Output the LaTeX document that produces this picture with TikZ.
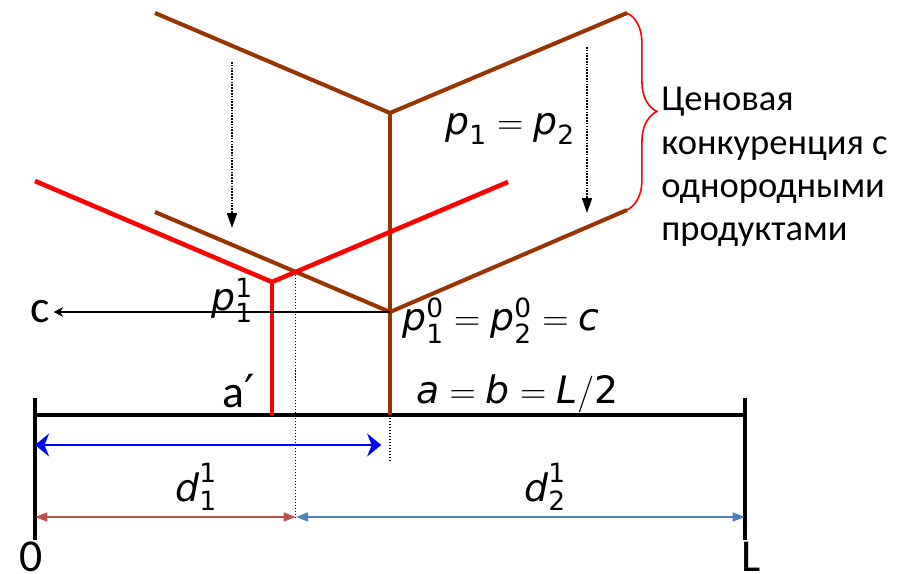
\documentclass[tikz,border=0pt]{standalone}
\usepackage{fontspec}
\usepackage{amsmath}
\setmainfont{Carlito}
\newfontfamily\vfont{DejaVu Sans}
\usetikzlibrary{arrows.meta,positioning,decorations.pathreplacing}
\definecolor{rust}{RGB}{153,51,0}
\definecolor{brick}{RGB}{192,80,77}
\definecolor{steel}{RGB}{79,129,189}
\newcommand{\mi}[1]{\text{\vfont\itshape #1}}
\newcommand{\nm}[1]{\text{\vfont #1}}
\newcommand{\pp}[2]{\mi{p}^{\nm{#2}}_{\nm{#1}}}
\tikzset{
  >={Stealth[length=5.5pt,width=5.5pt]},
  firm/.style={draw=#1,line width=2.3pt},
  firm/.default=rust,
  guide/.style={draw=black,line width=0.6pt,dash pattern=on 0.6pt off 1.1pt},
  drop/.style={draw=black,line width=0.9pt,dash pattern=on 0.9pt off 0.7pt,
    -{Triangle[length=8.5pt,width=5.7pt]}},
  span/.style={draw=#1,line width=1.3pt,
    {Triangle[length=7pt,width=5pt]}-{Triangle[length=7pt,width=5pt]}},
  span/.default=brick,
  reach/.style={draw=blue,line width=1.7pt,
    {Stealth[length=8pt,width=13pt]}-{Stealth[length=8pt,width=13pt]}},
  eq/.style={font=\fontsize{21.5}{25}\selectfont,inner sep=0pt,anchor=base west},
  tag/.style={font=\fontsize{26}{30}\selectfont,inner sep=0pt},
}

\begin{document}
\begin{tikzpicture}[x=0.02cm,y=-0.02cm]
  \useasboundingbox (0,0) rectangle (910,574);
  % price lines
  \coordinate (topL) at (155,13);
  \coordinate (topV) at (390,113);
  \coordinate (topR) at (627,13);
  \coordinate (lowL) at (155,212);
  \coordinate (eqV) at (390,312);
  \coordinate (lowR) at (627,210);
  \coordinate (redL) at (35,181);
  \coordinate (redV) at (272,282);
  \coordinate (redR) at (508,182);
  % market segment
  \coordinate (zero) at (35,415);
  \coordinate (ell) at (745,415);
  \coordinate (zeroT) at (35,398);
  \coordinate (zeroB) at (35,540);
  \coordinate (ellT) at (745,398);
  \coordinate (ellB) at (745,540);
  \coordinate (mid) at (eqV |- zero);
  \coordinate (aprime) at (redV |- zero);
  \coordinate (cross) at (intersection of lowL--eqV and redV--redR);
  \coordinate (bline) at (0,445);
  \coordinate (dline) at (0,517);
  \coordinate (midB) at (390,460);

  \draw[line width=2.8pt] (zero) -- (ell);
  \draw[line width=2.3pt] (zeroT) -- (zeroB);
  \draw[line width=2.3pt] (ellT) -- (ellB);

  \draw[firm] (topL) -- (topV) -- (topR);
  \draw[firm,line width=1.8pt] (topV) -- (eqV);
  \draw[firm] (lowL) -- (eqV) -- (lowR);
  \draw[firm] (eqV) -- (mid);
  \draw[firm=red,line width=2.6pt] (redL) -- (redV) -- (redR);
  \draw[firm=red,line width=2.6pt] (redV) -- (aprime);

  % shift of prices
  \coordinate (s1a) at (232,62);
  \coordinate (s1b) at (232,228);
  \coordinate (s2a) at (587,47);
  \coordinate (s2b) at (587,213);
  \draw[drop] (s1a) -- (s1b);
  \draw[drop] (s2a) -- (s2b);

  % guides and distances
  \draw[guide] (mid) -- (midB);
  \draw[guide] (cross) -- (cross |- dline);
  \draw[reach,shorten >=5pt] (zero |- bline) -- (mid |- bline);
  \draw[span] (zero |- dline) -- (cross |- dline);
  \draw[span=steel] (cross |- dline) -- (ell |- dline);

  \node[tag,inner sep=2pt] (cc) at (40,312) {c};
  \draw[->,line width=0.7pt] (eqV) -- (cc);

  % labels
  \node[eq] (p12) at (445,135) {$\mi{p}_{\nm{1}}=\mi{p}_{\nm{2}}$};
  \node[eq] (p0) at (402,331) {$\pp10=\pp20=\mi{c}$};
  \node[eq] (ab) at (416,403) {$\mi{a}=\mi{b}=\mi{L}/\nm{2}$};
  \node[eq] (p11) at (211,311) {$\pp11$};
  \node[eq] (d1) at (175,501) {$\mi{d}^{\nm{1}}_{\nm{1}}$};
  \node[eq] (d2) at (524,501) {$\mi{d}^{\nm{1}}_{\nm{2}}$};
  \node[tag,anchor=base west] (ap) at (222,407) {a{\vfont′}};
  \node[tag,anchor=south] (z0) at (31,572) {0};
  \node[tag,anchor=south] (zL) at (751,572) {L};

  \draw[red,line width=0.9pt,decorate,decoration={brace,amplitude=17pt}]
    (topR) -- (lowR);
  \node[font=\fontsize{20.8}{24.6}\selectfont,align=left,anchor=north west,
    inner sep=0pt] (txt) at (661,87)
    {Ценовая\\конкуренция с\\однородными\\продуктами};
\end{tikzpicture}
\end{document}
